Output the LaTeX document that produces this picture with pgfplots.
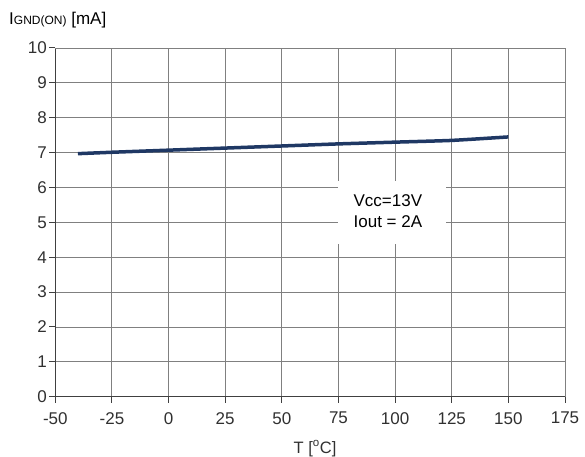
\documentclass[border=0pt]{standalone}
\usepackage{pgfplots}
\pgfplotsset{compat=1.18}
\usepackage{fontspec}
\setmainfont{Liberation Sans}
\definecolor{gridc}{HTML}{808080}
\definecolor{axc}{HTML}{404040}
\definecolor{linec}{HTML}{1F3864}
\definecolor{txt}{HTML}{303030}
\begin{document}
\begin{tikzpicture}[x=1pt,y=1pt]
\useasboundingbox (0,0) rectangle (585,456);
\begin{axis}[
  at={(55.3pt,59.3pt)}, anchor=south west,
  scale only axis, width=509.7pt, height=348.7pt,
  xmin=-50, xmax=175, ymin=0, ymax=10,
  xtick={-50,-25,...,175}, ytick={0,1,...,10},
  grid=major,
  major grid style={gridc, line width=0.9pt},
  axis line style={axc, line width=1.2pt},
  axis x line*=bottom, axis y line*=left,
  tick align=outside, major tick length=6pt,
  tick style={axc, line width=1pt},
  tick label style={font=\fontsize{17}{18}\selectfont, text=txt},
  /pgf/number format/assume math mode=true,
  xticklabel style={yshift=-6pt},
  yticklabel style={xshift=1pt},
  clip=false,
]
\draw[gridc, line width=0.9pt] (axis cs:175,0) -- (axis cs:175,10);
\draw[gridc, line width=0.9pt] (axis cs:-50,10) -- (axis cs:175,10);
\addplot[linec, line width=3.5pt, no marks, smooth, tension=0.3] coordinates {
 (-40,6.97) (-25,7.01) (0,7.07) (25,7.13) (50,7.19) (75,7.25) (100,7.30) (125,7.35) (150,7.45)
};
\node[fill=white, minimum width=108pt, minimum height=63pt, inner sep=0pt] at (axis cs:98.6,5.27) {};
\node[align=left, anchor=west, inner sep=0pt, font=\fontsize{17}{21.3}\selectfont, text=black] at (axis cs:81.6,5.33) {Vcc=13V\\Iout = 2A};
\end{axis}
\node[anchor=base west, inner sep=0pt, text=black] at (9,431) {{\fontsize{17}{18}\selectfont I}{\fontsize{12}{13}\selectfont GND(ON)}{\fontsize{17}{18}\selectfont\ [mA]}};
\node[anchor=base, inner sep=0pt, text=txt, font=\fontsize{16.5}{17}\selectfont] at (315,3) {T [\textsuperscript{o}C]};
\end{tikzpicture}
\end{document}
